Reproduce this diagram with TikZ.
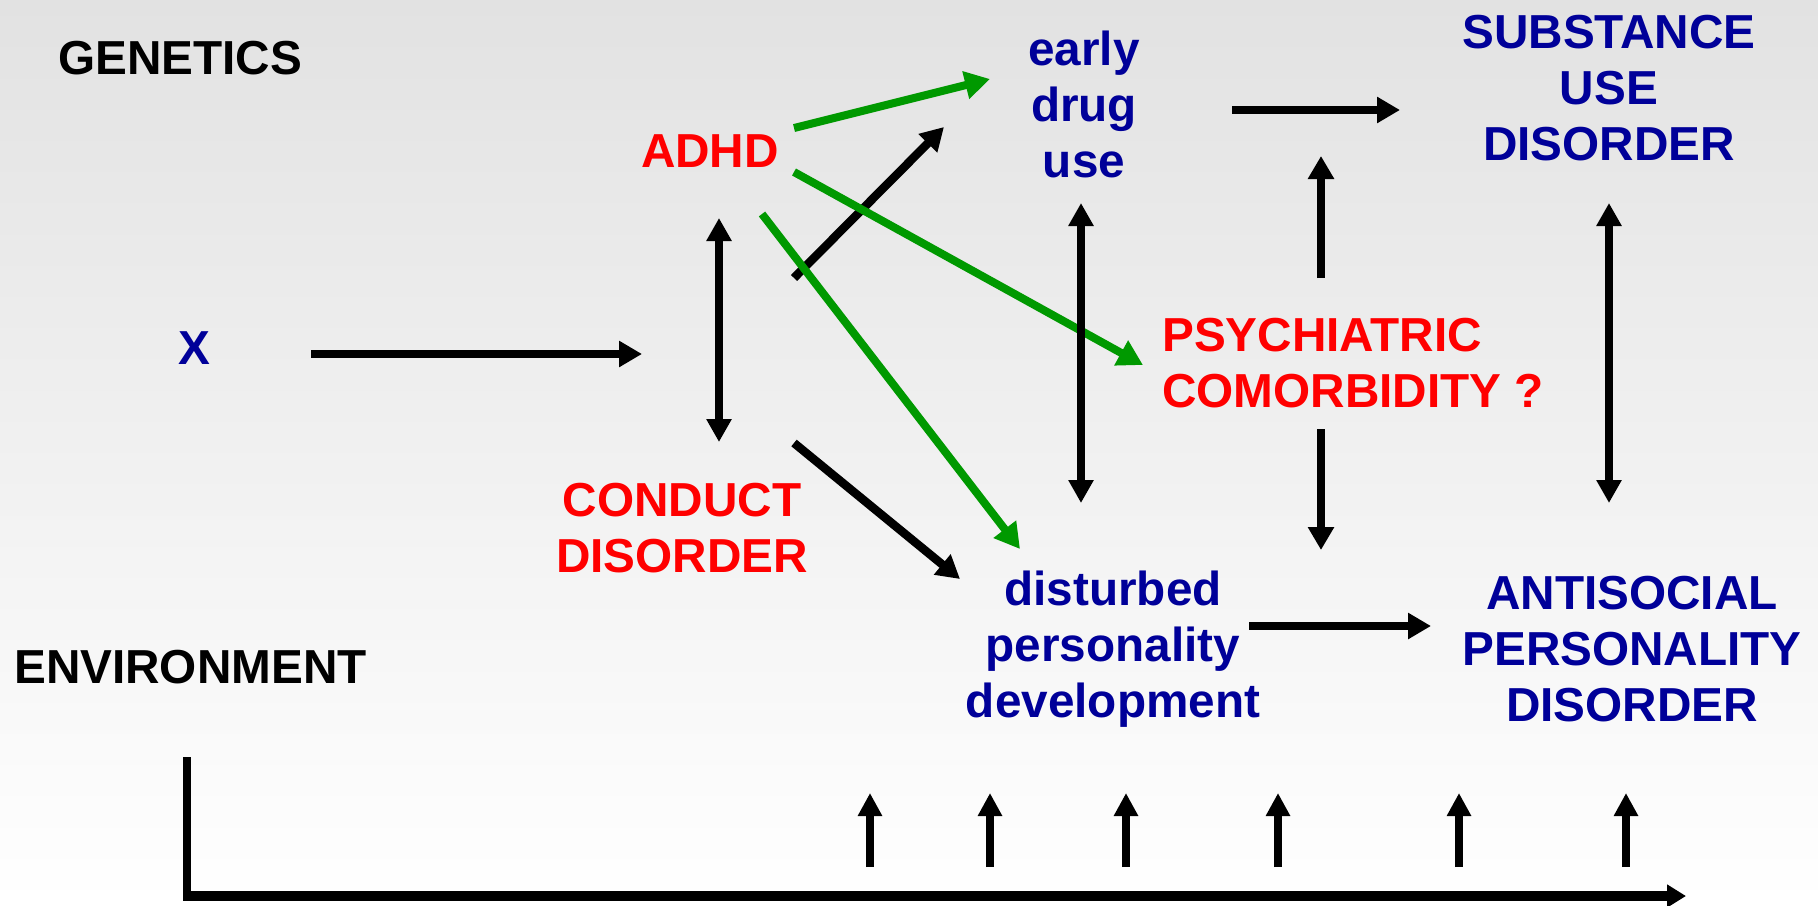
\documentclass[tikz,border=0pt]{standalone}
\usepackage{fontspec}
\setmainfont{Liberation Sans}
\usetikzlibrary{arrows.meta}
\definecolor{navy}{HTML}{000099}
\definecolor{grn}{HTML}{009900}
\definecolor{bgtop}{HTML}{E2E2E2}
\begin{document}
\begin{tikzpicture}[x=1pt,y=-1pt,
  lbl/.style={font=\fontsize{47.7}{56}\selectfont\bfseries, align=center, inner sep=0pt},
  blk/.style={line width=8.5pt, -{Triangle[length=23pt,width=25pt]}},
  dbl/.style={line width=8pt, {Triangle[length=23pt,width=24pt]}-{Triangle[length=23pt,width=24pt]}},
  grnarr/.style={grn, line width=8pt, -{Triangle[length=25pt,width=27pt]}},
  tick/.style={line width=7.5pt, -{Triangle[length=23pt,width=23pt]}},
  axis/.style={line width=10.5pt, -{Triangle[length=19pt,width=22pt]}}]
\shade[top color=bgtop, bottom color=white] (0,0) rectangle (1818,905);
\useasboundingbox (0,0) rectangle (1818,905);

% labels
\node[lbl, anchor=west] (gen) at (58,58) {GENETICS};
\node[lbl, anchor=west] (env) at (14,667) {ENVIRONMENT};
\node[lbl, navy] (x) at (194,348) {X};
\node[lbl, red] (adhd) at (710,151) {ADHD};
\node[lbl, red] (cd) at (682,528) {CONDUCT\\DISORDER};
\node[lbl, navy] (edu) at (1084,104) {early\\drug\\use};
\node[lbl, navy] (sud) at (1609,88) {SUBSTANCE\\USE\\DISORDER};
\node[lbl, red, align=left, anchor=west] (psy) at (1162,363) {PSYCHIATRIC\\COMORBIDITY ?};
\node[lbl, navy] (dpd) at (1113,649) {disturbed\\personality\\development};
\node[lbl, navy] (aspd) at (1632,649) {ANTISOCIAL\\PERSONALITY\\DISORDER};

% endpoints
\coordinate (xs) at (311,354);   \coordinate (xe) at (642,354);
\coordinate (g1s) at (794,128);  \coordinate (g1e) at (990,79);
\coordinate (b1s) at (794,278);  \coordinate (b1e) at (944,127);
\coordinate (g2s) at (794,172);  \coordinate (g2e) at (1143,365);
\coordinate (g3s) at (762,214);  \coordinate (g3e) at (1020,549);
\coordinate (b2s) at (794,443);  \coordinate (b2e) at (960,579);
\coordinate (d1s) at (719,218);  \coordinate (d1e) at (719,442);
\coordinate (es) at (1232,110);  \coordinate (ee) at (1400,110);
\coordinate (d2s) at (1081,203); \coordinate (d2e) at (1081,503);
\coordinate (pus) at (1321,278); \coordinate (pue) at (1321,156);
\coordinate (pds) at (1321,429); \coordinate (pde) at (1321,550);
\coordinate (d3s) at (1609,203); \coordinate (d3e) at (1609,503);
\coordinate (ds) at (1249,626);  \coordinate (de) at (1431,626);
\coordinate (ax0) at (187,757);  \coordinate (ax1) at (187,896); \coordinate (ax2) at (1686,896);

% connectors
\draw[blk] (xs) -- (xe);
\draw[grnarr] (g1s) -- (g1e);
\draw[blk] (b1s) -- (b1e);
\draw[grnarr] (g2s) -- (g2e);
\draw[grnarr] (g3s) -- (g3e);
\draw[blk] (b2s) -- (b2e);
\draw[dbl] (d1s) -- (d1e);
\draw[blk] (es) -- (ee);
\draw[dbl] (d2s) -- (d2e);
\draw[blk] (pus) -- (pue);
\draw[blk] (pds) -- (pde);
\draw[dbl] (d3s) -- (d3e);
\draw[blk] (ds) -- (de);
\draw[line width=7.5pt] (ax0) -- ([yshift=5pt]ax1);
\draw[axis] ([xshift=-3.75pt]ax1) -- (ax2);

% environment ticks
\foreach \i/\xx in {1/870,2/990,3/1126,4/1278,5/1459,6/1626}{
  \coordinate (t\i s) at (\xx,867);
  \coordinate (t\i e) at (\xx,793);
  \draw[tick] (t\i s) -- (t\i e);
}
\end{tikzpicture}
\end{document}
